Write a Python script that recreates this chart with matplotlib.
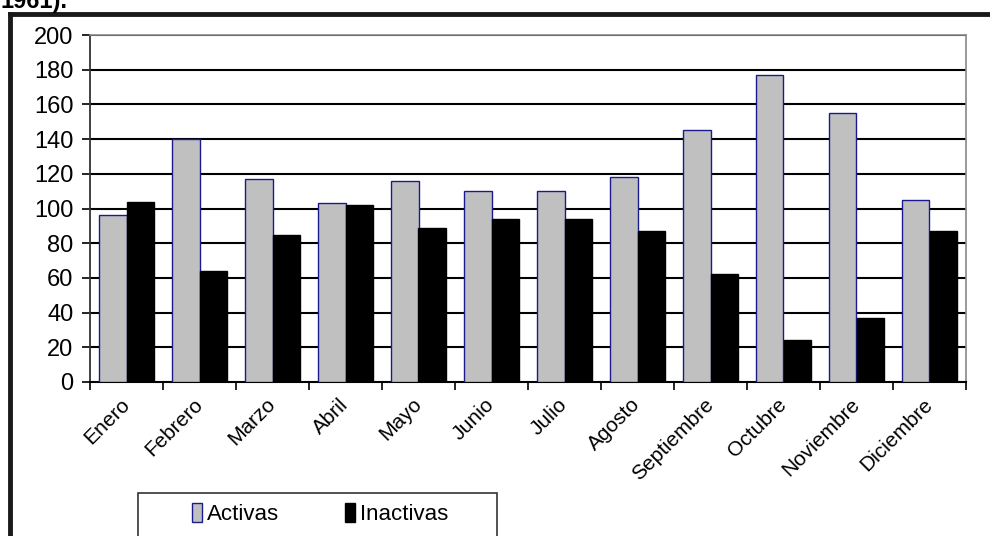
import numpy as np
import matplotlib
matplotlib.use('Agg')
import matplotlib.pyplot as plt
from matplotlib.patches import Rectangle
from matplotlib.lines import Line2D

plt.rcParams['font.family'] = ['Liberation Sans', 'DejaVu Sans']

# Data
meses = ['Enero', 'Febrero', 'Marzo', 'Abril', 'Mayo', 'Junio', 'Julio',
         'Agosto', 'Septiembre', 'Octubre', 'Noviembre', 'Diciembre']
activas = [96, 140, 117, 103, 116, 110, 110, 118, 145, 177, 155, 105]
inactivas = [104, 64, 85, 102, 89, 94, 94, 87, 62, 24, 37, 87]
yticks = [0, 20, 40, 60, 80, 100, 120, 140, 160, 180, 200]

W, H = 990, 536
fig = plt.figure(figsize=(W / 100, H / 100), dpi=100)
ax = fig.add_axes([90 / W, 1 - 382 / H, (966 - 90) / W, (382 - 35) / H])

x = np.arange(len(meses))
bw = 0.37
ax.bar(x - bw / 2, activas, bw, color='#C0C0C0', edgecolor='#1a1a8c', linewidth=1.0,
       label='Activas', zorder=3)
ax.bar(x + bw / 2, inactivas, bw, color='black', edgecolor='black', linewidth=1.0,
       label='Inactivas', zorder=3)

ax.set_xlim(-0.5, len(meses) - 0.5)
ax.set_ylim(0, 200)
ax.set_yticks(yticks)
ax.tick_params(axis='y', direction='out', length=6, width=1.2, pad=6, labelsize=17)
for t in yticks[1:]:
    ax.axhline(t, color='black', linewidth=1.5, zorder=1)

# category labels at centers, ticks at boundaries
ax.set_xticks(x)
ax.set_xticklabels(meses, rotation=45, ha='right', va='center',
                   rotation_mode='anchor', fontsize=15)
ax.tick_params(axis='x', which='major', length=0, pad=14)
ax.set_xticks(np.arange(len(meses) + 1) - 0.5, minor=True)
ax.tick_params(axis='x', which='minor', direction='out', length=6, width=1.2)

ax.spines['left'].set_color('#333333')
ax.spines['left'].set_linewidth(1.3)
ax.spines['bottom'].set_color('black')
ax.spines['bottom'].set_linewidth(1.5)
ax.spines['top'].set_color('#888888')
ax.spines['right'].set_color('#888888')
ax.spines['top'].set_linewidth(1.2)
ax.spines['right'].set_linewidth(1.2)

# legend box (runs past bottom edge)
fig.patches.append(Rectangle((138 / W, -0.05), (497 - 138) / W, 0.05 + (1 - 493 / H),
                             transform=fig.transFigure, fill=False,
                             edgecolor='#333333', linewidth=1.2))
handles, labels = ax.get_legend_handles_labels()
fig.legend(handles, labels, loc='center', bbox_to_anchor=(320 / W, 1 - 514 / H),
           ncol=2, frameon=False, fontsize=16, handlelength=0.45, handleheight=0.9,
           handletextpad=0.2, columnspacing=3.0)

# outer frame of the source document
fig.add_artist(Line2D([10 / W, 10 / W], [0, 1 - 14 / H], transform=fig.transFigure,
                      color='#1a1a1a', linewidth=3.5))
fig.add_artist(Line2D([10 / W, 1], [1 - 14 / H, 1 - 14 / H], transform=fig.transFigure,
                      color='#1a1a1a', linewidth=3.5))
fig.text(0, 1 - 8 / H, '1961).', fontsize=17, fontweight='bold', va='baseline')

fig.savefig('out.png', dpi=100)
